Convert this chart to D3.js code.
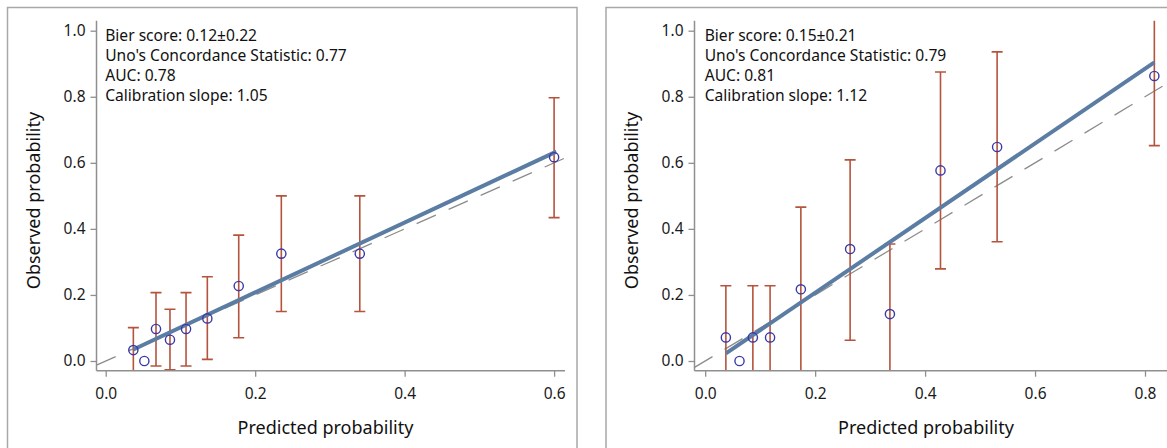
<!DOCTYPE html>
<html><head><meta charset="utf-8">
<script src="https://cdn.jsdelivr.net/npm/d3@7/dist/d3.min.js"></script>
<style>
html,body{margin:0;padding:0;background:#fff;}
svg{display:block;font-family:"Noto Sans",sans-serif;}
</style></head>
<body>
<svg id="c" width="1167" height="448"></svg>
<script>
// ---- data: panel A ----
const predA = [0.037, 0.0517, 0.0673, 0.086, 0.1075, 0.136, 0.178, 0.235, 0.340, 0.600];
const obsA  = [0.033, 0.000, 0.097, 0.0645, 0.097, 0.129, 0.227, 0.325, 0.325, 0.617];
const loA   = [-0.05, null, -0.015, -0.027, -0.015, 0.005, 0.0705, 0.150, 0.150, 0.434];
const hiA   = [0.101, null, 0.207, 0.1565, 0.207, 0.255, 0.381, 0.500, 0.500, 0.797];
const fitXA = [0.037, 0.603];
const fitYA = [0.035, 0.634];
const statsA = ["Bier score: 0.12\u00b10.22", "Uno's Concordance Statistic: 0.77", "AUC: 0.78", "Calibration slope: 1.05"];
const xTicksA = [0, 0.2, 0.4, 0.6];
// ---- data: panel B ----
const predB = [0.0376, 0.0624, 0.0867, 0.118, 0.174, 0.2636, 0.336, 0.428, 0.531, 0.817];
const obsB  = [0.0714, 0.000, 0.0714, 0.0714, 0.217, 0.339, 0.142, 0.577, 0.648, 0.863];
const loB   = [-0.05, null, -0.05, -0.05, -0.05, 0.0627, -0.05, 0.279, 0.361, 0.652];
const hiB   = [0.228, null, 0.228, 0.228, 0.466, 0.609, 0.354, 0.875, 0.936, 1.10];
const fitXB = [0.0377, 0.817];
const fitYB = [0.023, 0.904];
const statsB = ["Bier score: 0.15\u00b10.21", "Uno's Concordance Statistic: 0.79", "AUC: 0.81", "Calibration slope: 1.12"];
const xTicksB = [0, 0.2, 0.4, 0.6, 0.8];
const yTicks = [0, 0.2, 0.4, 0.6, 0.8, 1.0];
const xTitle = "Predicted probability";
const yTitle = "Observed probability";

const svg = d3.select("#c");
const fmt = d3.format(".1f");

function panel(cfg, pred, obs, lo, hi, fitX, fitY, stats, xTicks, id) {
  const g = svg.append("g");
  // border
  g.append("rect").attr("x", cfg.bx).attr("y", cfg.by).attr("width", cfg.bw).attr("height", cfg.bh)
    .attr("fill", "none").attr("stroke", "#a8a8a8").attr("stroke-width", 1.5);
  const x = d3.scaleLinear().domain([0, xTicks[xTicks.length-1]]).range([cfg.x0, cfg.x1]);
  const y = d3.scaleLinear().domain([0, 1]).range([361, 30.7]);
  const L = cfg.axisX, R = cfg.right, T = 20.7, B = 370.7;
  g.append("clipPath").attr("id", id).append("rect").attr("x", L).attr("y", T).attr("width", R - L).attr("height", B - T);
  const pg = g.append("g").attr("clip-path", `url(#${id})`);
  // diagonal reference
  const dmin = x.invert(L), dmax = x.invert(R);
  pg.append("line").attr("x1", x(dmin)).attr("y1", y(dmin)).attr("x2", x(dmax)).attr("y2", y(dmax))
    .attr("stroke", "#8c8c8c").attr("stroke-width", 1.3).attr("stroke-dasharray", "21,14");
  // error bars
  const idx = d3.range(pred.length).filter(i => lo[i] !== null);
  const cw = 5.5;
  const eb = pg.append("g").attr("stroke", "#b5533d").attr("stroke-width", 1.6).attr("fill", "none");
  idx.forEach(i => {
    eb.append("line").attr("x1", x(pred[i])).attr("x2", x(pred[i])).attr("y1", y(lo[i])).attr("y2", y(hi[i]));
    eb.append("line").attr("x1", x(pred[i]) - cw).attr("x2", x(pred[i]) + cw).attr("y1", y(lo[i])).attr("y2", y(lo[i]));
    eb.append("line").attr("x1", x(pred[i]) - cw).attr("x2", x(pred[i]) + cw).attr("y1", y(hi[i])).attr("y2", y(hi[i]));
  });
  // fitted line
  pg.append("path").datum(d3.zip(fitX, fitY))
    .attr("d", d3.line().x(d => x(d[0])).y(d => y(d[1])))
    .attr("stroke", "#5b7da3").attr("stroke-width", 4).attr("fill", "none");
  // points
  pg.selectAll("circle").data(d3.range(pred.length)).join("circle")
    .attr("cx", i => x(pred[i])).attr("cy", i => y(obs[i])).attr("r", 4.6)
    .attr("fill", "none").attr("stroke", "#3939a9").attr("stroke-width", 1.4);
  // axes
  const ax = g.append("g").attr("transform", `translate(0,${B})`)
    .call(d3.axisBottom(x).tickValues(xTicks).tickFormat(fmt).tickSize(6).tickPadding(11));
  const ay = g.append("g").attr("transform", `translate(${L},0)`)
    .call(d3.axisLeft(y).tickValues(yTicks).tickFormat(fmt).tickSize(6).tickPadding(5));
  [ax, ay].forEach(a => {
    a.select(".domain").remove();
    a.selectAll(".tick line").attr("stroke", "#8f8f8f").attr("stroke-width", 1.3);
    a.selectAll(".tick text").attr("fill", "#1a1a1a").style("font-size", "15.5px").style("font-family", "Noto Sans");
  });
  g.append("line").attr("x1", L).attr("x2", L).attr("y1", T).attr("y2", B).attr("stroke", "#8f8f8f").attr("stroke-width", 1.5);
  g.append("line").attr("x1", L).attr("x2", R).attr("y1", B).attr("y2", B).attr("stroke", "#8f8f8f").attr("stroke-width", 1.5);
  // titles
  g.append("text").attr("x", cfg.xtx).attr("y", 434).attr("text-anchor", "middle")
    .attr("fill", "#111").style("font-size", "18px").text(xTitle);
  g.append("text").attr("transform", `translate(${cfg.ytx},200.5) rotate(-90)`).attr("text-anchor", "middle")
    .attr("dy", "0.35em").attr("fill", "#111").style("font-size", "18px").text(yTitle);
  // stats
  const st = g.append("text").attr("fill", "#111").style("font-size", "15.6px");
  stats.forEach((s, i) => st.append("tspan").attr("x", cfg.x0 - 0.5).attr("y", 40.5 + i * 20.3).text(s));
}

panel({bx: 7.5, by: 7.5, bw: 569.5, bh: 460, x0: 105.7, x1: 554.1, axisX: 96.5, right: 565, xtx: 325.5, ytx: 33.3},
      predA, obsA, loA, hiA, fitXA, fitYA, statsA, xTicksA, "clipA");
panel({bx: 606, by: 7.5, bw: 580, bh: 460, x0: 705.2, x1: 1145, axisX: 694.5, right: 1167, xtx: 926, ytx: 632},
      predB, obsB, loB, hiB, fitXB, fitYB, statsB, xTicksB, "clipB");
</script>
</body></html>
